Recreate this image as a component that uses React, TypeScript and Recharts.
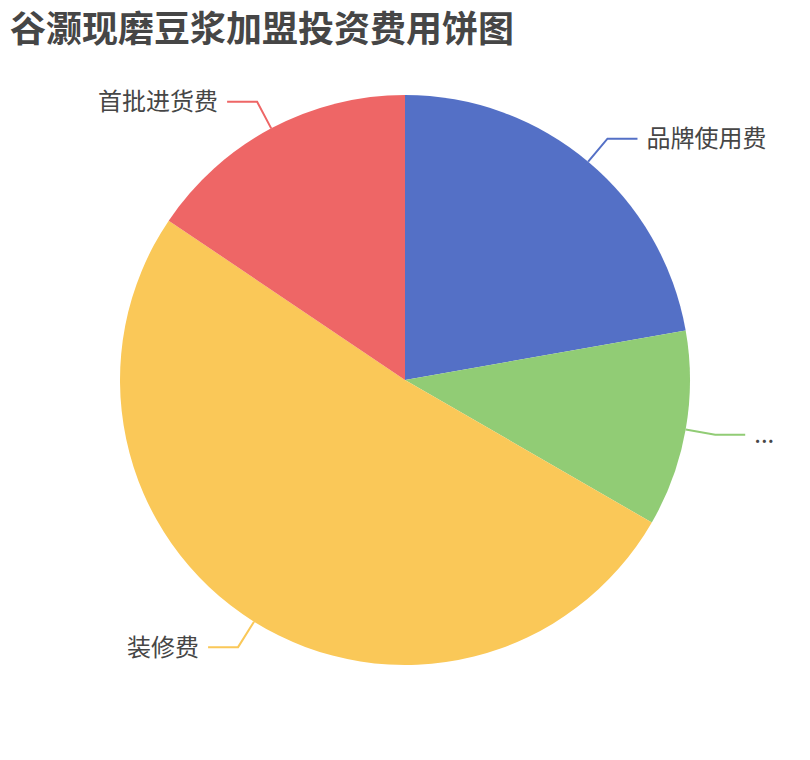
import { Cell, Pie, PieChart } from 'recharts';

const TITLE = '谷灏现磨豆浆加盟投资费用饼图';
const names = ['品牌使用费', '...', '装修费', '首批进货费'];
const values = [2, 1, 4.6, 1.4];
const colors = ['#5470c6', '#91cc75', '#fac858', '#ee6666'];

const chartData = names.map((name, i) => ({ name, value: values[i], color: colors[i] }));

const RAD = Math.PI / 180;

function renderLabel(props: any) {
  const { cx, cy, outerRadius, midAngle, index } = props;
  const cos = Math.cos(-midAngle * RAD);
  const sin = Math.sin(-midAngle * RAD);
  const x0 = cx + outerRadius * cos;
  const y0 = cy + outerRadius * sin;
  const x1 = cx + (outerRadius + 30) * cos;
  const y1 = cy + (outerRadius + 30) * sin;
  const right = cos >= 0;
  const x2 = x1 + (right ? 30 : -30);
  const tx = x2 + (right ? 9 : -9);
  const item = chartData[index];
  return (
    <g key={`label-${index}`}>
      <path
        d={`M${x0},${y0}L${x1},${y1}L${x2},${y1}`}
        stroke={item.color}
        strokeWidth={2}
        fill="none"
      />
      <text
        x={tx}
        y={y1 - 2}
        textAnchor={right ? 'start' : 'end'}
        dominantBaseline="central"
        fill="#464646"
        fontSize={24}
        fontFamily="'Noto Sans CJK SC', sans-serif"
      >
        {item.name}
      </text>
    </g>
  );
}

export default function App() {
  return (
    <div style={{ position: 'absolute', left: 0, top: 0, width: 810, height: 760, background: '#fff' }}>
      <div
        style={{
          position: 'absolute',
          left: 10,
          top: 2,
          fontSize: 36,
          fontWeight: 700,
          color: '#464646',
          fontFamily: "'Noto Sans CJK SC', sans-serif",
          lineHeight: '48px',
          whiteSpace: 'nowrap',
        }}
      >
        {TITLE}
      </div>
      <PieChart width={810} height={760} margin={{ top: 0, right: 0, bottom: 0, left: 0 }}>
        <Pie
          data={chartData}
          dataKey="value"
          nameKey="name"
          cx={405}
          cy={380}
          outerRadius={285}
          startAngle={90}
          endAngle={-270}
          stroke="none"
          label={renderLabel}
          labelLine={false}
          isAnimationActive={false}
        >
          {chartData.map((d, i) => (
            <Cell key={`cell-${i}`} fill={d.color} />
          ))}
        </Pie>
      </PieChart>
    </div>
  );
}
